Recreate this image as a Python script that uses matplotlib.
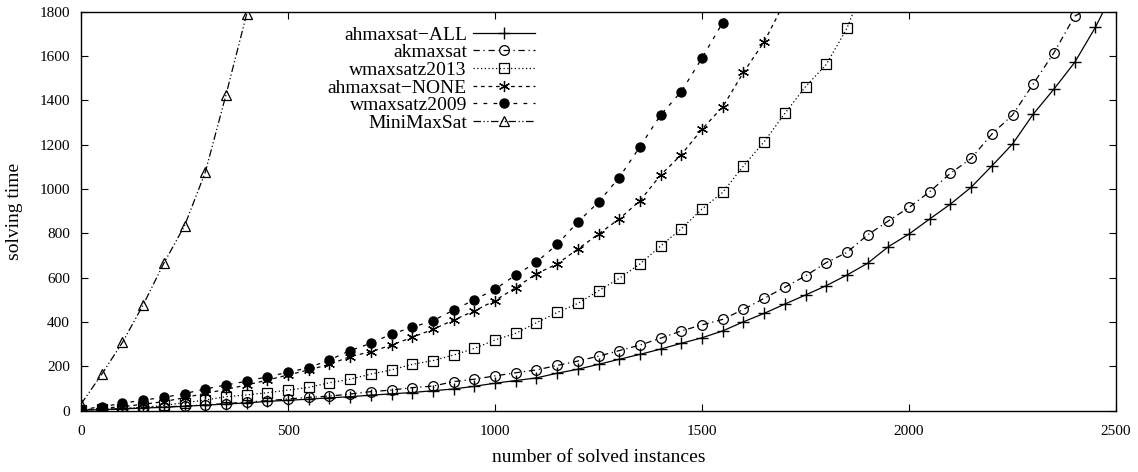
import matplotlib
matplotlib.use("Agg")
import matplotlib.pyplot as plt

plt.rcParams["font.family"] = ["Liberation Serif", "DejaVu Serif"]
plt.rcParams["font.size"] = 11

# instances (markers every 50 solved instances), last point lies above the plot range
x_all = [0, 50, 100, 150, 200, 250, 300, 350, 400, 450, 500, 550, 600, 650, 700, 750,
         800, 850, 900, 950, 1000, 1050, 1100, 1150, 1200, 1250, 1300, 1350, 1400, 1450,
         1500, 1550, 1600, 1650, 1700, 1750, 1800, 1850, 1900, 1950, 2000, 2050, 2100,
         2150, 2200, 2250, 2300, 2350, 2400, 2450, 2500]
y_all = [2, 5, 8, 12, 15, 20, 25, 30, 35, 42, 47, 52, 58, 63, 70, 76,
         82, 90, 98, 110, 124, 136, 148, 169, 187, 209, 232, 254, 278, 304,
         329, 360, 401, 439, 481, 522, 564, 612, 665, 740, 797, 865, 932,
         1008, 1104, 1203, 1338, 1451, 1571, 1729, 1915]

x_ak = [0, 50, 100, 150, 200, 250, 300, 350, 400, 450, 500, 550, 600, 650, 700, 750,
        800, 850, 900, 950, 1000, 1050, 1100, 1150, 1200, 1250, 1300, 1350, 1400, 1450,
        1500, 1550, 1600, 1650, 1700, 1750, 1800, 1850, 1900, 1950, 2000, 2050, 2100,
        2150, 2200, 2250, 2300, 2350, 2400, 2450]
y_ak = [2, 6, 8, 15, 17, 21, 26, 32, 39, 45, 53, 60, 66, 75, 86, 93,
        104, 111, 131, 142, 157, 171, 184, 204, 224, 246, 271, 296, 327, 360,
        387, 412, 457, 507, 557, 608, 668, 714, 793, 856, 917, 988, 1071,
        1138, 1248, 1334, 1474, 1615, 1780, 1830]

x_w13 = [0, 50, 100, 150, 200, 250, 300, 350, 400, 450, 500, 550, 600, 650, 700, 750,
         800, 850, 900, 950, 1000, 1050, 1100, 1150, 1200, 1250, 1300, 1350, 1400, 1450,
         1500, 1550, 1600, 1650, 1700, 1750, 1800, 1850, 1900]
y_w13 = [3, 6, 9, 15, 24, 36, 48, 63, 71, 81, 93, 105, 126, 142, 165, 184,
         209, 226, 251, 281, 319, 349, 397, 443, 484, 541, 597, 662, 743, 821,
         910, 985, 1104, 1213, 1341, 1462, 1562, 1725, 1960]

x_none = [0, 50, 100, 150, 200, 250, 300, 350, 400, 450, 500, 550, 600, 650, 700, 750,
          800, 850, 900, 950, 1000, 1050, 1100, 1150, 1200, 1250, 1300, 1350, 1400, 1450,
          1500, 1550, 1600, 1650, 1700]
y_none = [3, 11, 18, 29, 41, 59, 78, 96, 116, 138, 161, 184, 209, 244, 266, 296,
          331, 367, 409, 450, 497, 555, 618, 662, 729, 797, 865, 947, 1063, 1155,
          1270, 1371, 1526, 1664, 1845]

x_w09 = [0, 50, 100, 150, 200, 250, 300, 350, 400, 450, 500, 550, 600, 650, 700, 750,
         800, 850, 900, 950, 1000, 1050, 1100, 1150, 1200, 1250, 1300, 1350, 1400, 1450,
         1500, 1550, 1600]
y_w09 = [5, 18, 33, 48, 60, 77, 98, 116, 133, 153, 173, 194, 229, 271, 304, 346,
         376, 406, 454, 500, 548, 612, 670, 750, 851, 941, 1052, 1191, 1334, 1440,
         1591, 1751, 1940]

x_mms = [0, 50, 100, 150, 200, 250, 300, 350, 400, 450]
y_mms = [30, 164, 308, 477, 665, 834, 1075, 1424, 1789, 2300]

labels = ["ahmaxsat\u2212ALL", "akmaxsat", "wmaxsatz2013",
          "ahmaxsat\u2212NONE", "wmaxsatz2009", "MiniMaxSat"]

fig = plt.figure(figsize=(11.38, 4.72), dpi=100)
ax = fig.add_axes([0.0712, 0.1299, 0.9095, 0.8453])

lw = 0.9
ax.plot(x_all, y_all, color="black", lw=lw, linestyle="-",
        marker="+", ms=8, mew=1.0, label=labels[0])
ax.plot(x_ak, y_ak, color="black", lw=lw, linestyle=(0, (5, 3, 1, 3)),
        marker="o", ms=7, mfc="none", mew=0.9, label=labels[1])
ax.plot(x_w13, y_w13, color="black", lw=lw, linestyle=(0, (1, 2)),
        marker="s", ms=7, mfc="none", mew=0.9, label=labels[2])
ax.plot(x_none, y_none, color="black", lw=lw, linestyle=(0, (3, 3)),
        marker=(6, 2, 0), ms=8, mew=0.9, label=labels[3])
ax.plot(x_w09, y_w09, color="black", lw=lw, linestyle=(0, (3, 5)),
        marker="o", ms=6.5, mfc="black", label=labels[4])
ax.plot(x_mms, y_mms, color="black", lw=lw, linestyle=(0, (6, 2, 1, 2, 1, 2)),
        marker="^", ms=7, mfc="none", mew=0.9, label=labels[5])

ax.set_xlim(0, 2500)
ax.set_ylim(0, 1800)
ax.set_xticks(range(0, 2501, 500))
ax.set_yticks(range(0, 1801, 200))
ax.tick_params(direction="in", length=5, width=0.8, top=True, right=True,
               labelsize=11)
ax.tick_params(axis="x", pad=10)
ax.tick_params(axis="y", pad=8)
for s in ax.spines.values():
    s.set_linewidth(1.0)

ax.set_xlabel("number of solved instances", fontsize=14, labelpad=8)
ax.set_ylabel("solving time", fontsize=14, labelpad=12)

leg = ax.legend(loc="upper right", bbox_to_anchor=(0.4386, 0.964),
                frameon=False, markerfirst=False, handlelength=3.2,
                handletextpad=0.3, labelspacing=0.0, borderpad=0,
                borderaxespad=0, fontsize=14)

fig.savefig("out.png", dpi=100)
